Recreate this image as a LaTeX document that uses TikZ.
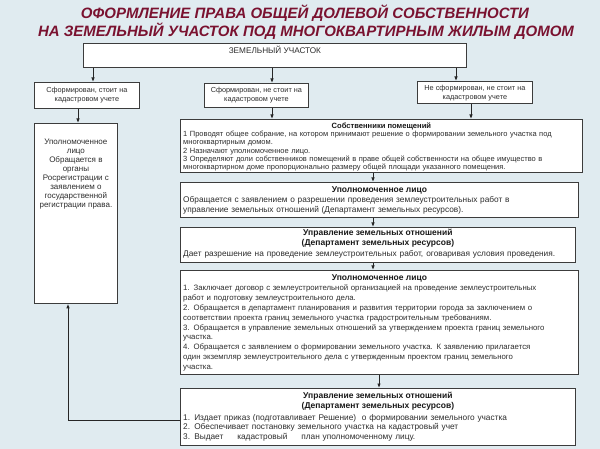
\documentclass[tikz,border=0pt]{standalone}
\usepackage{fontspec}
\setmainfont{Liberation Sans}
\usetikzlibrary{arrows.meta}
\definecolor{bg}{RGB}{224,235,240}
\definecolor{ttlc}{RGB}{122,18,48}
\definecolor{ink}{RGB}{45,45,45}
\definecolor{edge}{RGB}{60,60,60}
\newcommand{\J}[2]{\makebox[#1][s]{#2}}
\begin{document}
\begin{tikzpicture}[x=1pt,y=-1pt,
  box/.style={draw=edge,line width=0.8pt,fill=white,inner sep=0pt,anchor=north west},
  arr/.style={draw=black!85,line width=0.9pt,-{Latex[length=4.5pt,width=3.6pt]}},
  ttl/.style={text=ttlc,font=\fontsize{15}{17}\selectfont\bfseries\itshape,inner sep=0pt},
  txt/.style={text=ink,inner sep=0pt},
  hd/.style={text=black!90,inner sep=0pt,align=center,font=\fontsize{8.5}{9.8}\selectfont\bfseries},
]
\useasboundingbox (0,0) rectangle (600,449);
\fill[bg] (0,0) rectangle (600,449);

% title
\node[ttl] (t1) at (305,13.5) {ОФОРМЛЕНИЕ ПРАВА ОБЩЕЙ ДОЛЕВОЙ СОБСТВЕННОСТИ};
\node[ttl] (t2) at (306,31.5) {НА ЗЕМЕЛЬНЫЙ УЧАСТОК ПОД МНОГОКВАРТИРНЫМ ЖИЛЫМ ДОМОМ};

% boxes
\node[box,minimum width=383pt,minimum height=24pt] (zu) at (83,43) {};
\node[box,minimum width=105pt,minimum height=26pt] (a) at (34,82) {};
\node[box,minimum width=104pt,minimum height=24pt] (b) at (204,83) {};
\node[box,minimum width=115pt,minimum height=22pt] (c) at (417,81) {};
\node[box,minimum width=83pt,minimum height=180pt] (lb) at (34,123) {};
\node[box,minimum width=402pt,minimum height=53pt] (s) at (180,119) {};
\node[box,minimum width=398pt,minimum height=35pt] (u1) at (180,182) {};
\node[box,minimum width=395pt,minimum height=35pt] (r1) at (180,227) {};
\node[box,minimum width=398pt,minimum height=104pt] (u2) at (180,270) {};
\node[box,minimum width=395pt,minimum height=57pt] (r2) at (180,388) {};

% texts
\node[txt,font=\fontsize{8.2}{9}\selectfont] (zut) at (zu.center |- 0,50) {ЗЕМЕЛЬНЫЙ УЧАСТОК};
\node[txt,align=center,font=\fontsize{7.3}{9.4}\selectfont] (at) at (a.center) {Сформирован, стоит на\\кадастровом учете};
\node[txt,align=center,font=\fontsize{7.3}{9}\selectfont] (bt) at (b.center) {Сформирован, не стоит на\\кадастровом учете};
\node[txt,align=center,font=\fontsize{7.3}{8.6}\selectfont] (ct) at ([yshift=-1pt]c.center) {Не сформирован, не стоит на\\кадастровом учете};
\node[txt,align=center,anchor=north,font=\fontsize{8}{9}\selectfont] (lbt) at (lb.north |- 0,139)
  {Уполномоченное\\лицо\\Обращается в\\органы\\Росрегистрации с\\заявлением о\\государственной\\регистрации права.};

\node[hd,font=\fontsize{7.6}{9}\selectfont\bfseries] (sh) at (s.center |- 0,126.3) {Собственники помещений};
\node[txt,anchor=north west,align=left,text width=392pt,font=\fontsize{7.5}{8.3}\selectfont] (sb) at (183,130.8)
  {\J{392pt}{1 Проводят общее собрание, на котором принимают решение о формировании земельного участка под}\\
   многоквартирным домом.\\
   2 Назначают уполномоченное лицо.\\
   3 Определяют доли собственников помещений в праве общей собственности на общее имущество в\\
   многоквартирном доме пропорционально размеру общей площади указанного помещения.};

\node[hd] (u1h) at (u1.center |- 0,190) {Уполномоченное лицо};
\node[txt,anchor=north west,align=left,text width=386pt,font=\fontsize{8.3}{10}\selectfont] (u1b) at (183,196.6)
  {\J{385pt}{Обращается с заявлением о разрешении проведения землеустроительных работ в}\\
   управление земельных отношений (Департамент земельных ресурсов).};

\node[hd] (r1h) at (r1.center |- 0,238.5) {Управление земельных отношений\\(Департамент земельных ресурсов)};
\node[txt,anchor=north west,font=\fontsize{8.3}{9.5}\selectfont] (r1b) at (183,250)
  {\J{372pt}{Дает разрешение на проведение землеустроительных работ, оговаривая условия проведения.}};

\node[hd] (u2h) at (u2.center |- 0,278) {Уполномоченное лицо};
\node[txt,anchor=north west,align=left,text width=384pt,font=\fontsize{7.8}{9.9}\selectfont] (u2b) at (183,284.5)
  {\J{383pt}{1. Заключает договор с землеустроительной организацией на проведение землеустроительных}\\
   работ и подготовку землеустроительного дела.\\
   \J{383pt}{2. Обращается в департамент планирования и развития территории города за заключением о}\\
   соответствии проекта границ земельного участка градостроительным требованиям.\\
   \J{383pt}{3. Обращается в управление земельных отношений за утверждением проекта границ земельного}\\
   участка.\\
   \J{383pt}{4. Обращается с заявлением о формировании земельного участка. К заявлению прилагается}\\
   \J{383pt}{один экземпляр землеустроительного дела с утвержденным проектом границ земельного}\\
   участка.};

\node[hd] (r2h) at (r2.center |- 0,401.2) {Управление земельных отношений\\(Департамент земельных ресурсов)};
\node[txt,anchor=north west,align=left,text width=385pt,font=\fontsize{8.3}{9.7}\selectfont] (r2b) at (183,414)
  {1. Издает приказ (подготавливает Решение)\hspace{3pt} о формировании земельного участка\\
   \J{317pt}{2. Обеспечивает постановку земельного участка на кадастровый учет}\\
   \J{232pt}{3. Выдает\hfill кадастровый\hfill план уполномоченному лицу.}};

% connectors
\draw[arr] (zu.south -| 93,0) -- (a.north -| 93,0);
\draw[arr] (zu.south -| 272,0) -- (b.north -| 272,0);
\draw[arr] (zu.south -| 456,0) -- (c.north -| 456,0);
\draw[arr] (a.south -| 78,0) -- (lb.north -| 78,0);
\draw[arr] (b.south -| 272,0) -- (s.north -| 272,0);
\draw[arr] (c.south -| 471,0) -- (s.north -| 471,0);
\draw[arr] (s.south -| 373,0) -- (u1.north -| 373,0);
\draw[arr] (u1.south -| 373,0) -- (r1.north -| 373,0);
\draw[arr] (r1.south -| 373,0) -- (u2.north -| 373,0);
\draw[arr] (u2.south -| 379,0) -- (r2.north -| 379,0);
\draw[arr] (r2.west |- 0,420) -| (lb.south -| 68,0);
\end{tikzpicture}
\end{document}
